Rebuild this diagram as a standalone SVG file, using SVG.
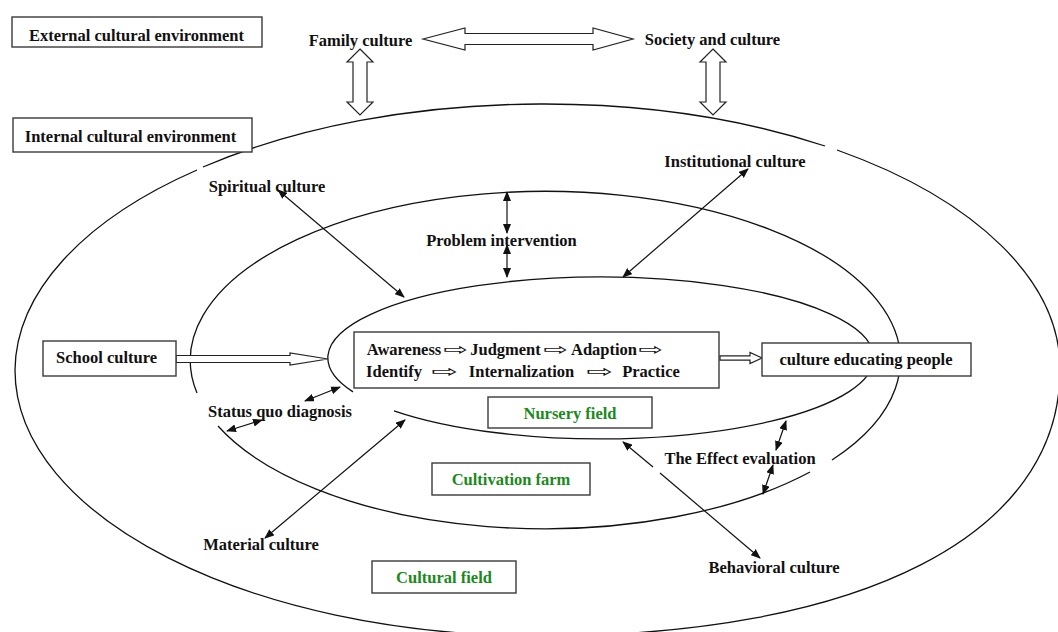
<svg xmlns="http://www.w3.org/2000/svg" width="1058" height="632" viewBox="0 0 1058 632">
<defs>
<style>
.t{font-family:"Liberation Serif","Times New Roman",serif;font-weight:bold;font-size:16.5px;fill:#111;text-anchor:middle}
.g{fill:#1a8a1a}
.box{fill:#fff;stroke:#3a3a3a;stroke-width:1.4}
.ell{fill:none;stroke:#111;stroke-width:1.3}
.ln{stroke:#111;stroke-width:1.2;fill:none}
.both{marker-start:url(#ah);marker-end:url(#ah)}
.hol{fill:#fff;stroke:#222;stroke-width:1.2}
.arr{font-family:"DejaVu Sans",sans-serif;font-size:17px;fill:#111}
</style>
<marker id="ah" viewBox="0 0 10 8" refX="9" refY="4" markerWidth="10" markerHeight="8" markerUnits="userSpaceOnUse" orient="auto-start-reverse"><path d="M0,0 L10,4 L0,8 z" fill="#111"/></marker>
</defs>
<rect width="1058" height="632" fill="#fff"/>

<g id="fields">
  <path class="ell" d="M203 167 A525 266 0 0 1 540 104 A520 266 0 0 1 825 146"/>
  <path class="ell" d="M837 150 A520 266 0 0 1 1060 370 C1060 535 862 636 540 636 C250 636 15 517 15 370 A525 266 0 0 1 197 170"/>
  <path class="ell" d="M218 426 A355 169 0 0 0 810 472"/>
  <path class="ell" d="M832 460 A355 169 0 1 0 197 393"/>
  <path class="ell" d="M394 410.8 A273 81 0 1 0 353 391.9"/>
</g>

<g id="connectors">
  <polygon class="hol" points="423,39 465,28 465,33.5 593,33.5 593,28 633,39 593,50 593,44.5 465,44.5 465,50"/>
  <polygon class="hol" points="360,49 373,62 367,62 367,102 373,102 360,115 347,102 353,102 353,62 347,62"/>
  <polygon class="hol" points="713,49 726,62 720,62 720,102 726,102 713,115 700,102 706,102 706,62 700,62"/>
  <polygon class="hol" points="176,355.5 290,355.5 290,353 328,359 290,365 290,362.5 176,362.5"/>
  <polygon class="hol" points="720,355.8 750,355.8 750,352.5 762,358 750,363.5 750,360.2 720,360.2"/>
  <line class="ln both" x1="278" y1="190" x2="404" y2="297"/>
  <line class="ln both" x1="507" y1="192" x2="507" y2="233"/>
  <line class="ln both" x1="507" y1="245" x2="507" y2="277"/>
  <line class="ln both" x1="748" y1="169" x2="623" y2="277"/>
  <line class="ln both" x1="340" y1="387" x2="305" y2="401"/>
  <line class="ln both" x1="262" y1="420" x2="227" y2="431"/>
  <line class="ln both" x1="405" y1="420" x2="265" y2="538"/>
  <line class="ln both" x1="786" y1="421" x2="776" y2="450"/>
  <line class="ln both" x1="773" y1="465" x2="763" y2="494"/>
  <line class="ln" x1="653" y1="467" x2="623" y2="442" marker-end="url(#ah)"/>
  <line class="ln" x1="660" y1="473" x2="760" y2="558" marker-end="url(#ah)"/>
</g>

<g id="external">
  <rect class="box" x="12" y="17" width="250" height="30"/>
  <text class="t" x="136.5" y="41">External cultural environment</text>
</g>
<g id="internal">
  <rect class="box" x="13" y="118" width="239" height="34"/>
  <text class="t" x="130.5" y="141.5">Internal cultural environment</text>
</g>
<g id="family"><text class="t" x="360.5" y="45.5">Family culture</text></g>
<g id="society"><text class="t" x="712.5" y="44.5">Society and culture</text></g>
<g id="spiritual"><text class="t" x="267" y="191.5">Spiritual culture</text></g>
<g id="problem"><text class="t" x="501.5" y="246">Problem intervention</text></g>
<g id="institutional"><text class="t" x="735" y="167">Institutional culture</text></g>
<g id="school">
  <rect class="box" x="43" y="341" width="133" height="35"/>
  <text class="t" x="106.5" y="363">School culture</text>
</g>
<g id="process">
  <rect class="box" x="354" y="332" width="365" height="56"/>
  <text class="t" x="404" y="355">Awareness</text>
  <text class="arr" x="443" y="355" textLength="25" lengthAdjust="spacingAndGlyphs">⇨</text>
  <text class="t" x="505.5" y="355">Judgment</text>
  <text class="arr" x="543" y="355" textLength="25" lengthAdjust="spacingAndGlyphs">⇨</text>
  <text class="t" x="604" y="355">Adaption</text>
  <text class="arr" x="638" y="355" textLength="25" lengthAdjust="spacingAndGlyphs">⇨</text>
  <text class="t" x="394" y="377">Identify</text>
  <text class="arr" x="431" y="377" textLength="27" lengthAdjust="spacingAndGlyphs">⇨</text>
  <text class="t" x="521.5" y="377">Internalization</text>
  <text class="arr" x="586" y="377" textLength="27" lengthAdjust="spacingAndGlyphs">⇨</text>
  <text class="t" x="651" y="377">Practice</text>
</g>
<g id="educating">
  <rect class="box" x="762" y="343" width="209" height="33"/>
  <text class="t" x="866" y="365">culture educating people</text>
</g>
<g id="status"><text class="t" x="280" y="417">Status quo diagnosis</text></g>
<g id="nursery">
  <rect class="box" x="488" y="397" width="164" height="31"/>
  <text class="t g" x="570" y="419">Nursery field</text>
</g>
<g id="effect"><text class="t" x="740" y="464">The Effect evaluation</text></g>
<g id="cultivation">
  <rect class="box" x="432" y="463" width="158" height="32"/>
  <text class="t g" x="511" y="485">Cultivation farm</text>
</g>
<g id="material"><text class="t" x="261" y="550">Material culture</text></g>
<g id="culturalfield">
  <rect class="box" x="372" y="561" width="144" height="32"/>
  <text class="t g" x="444" y="583">Cultural field</text>
</g>
<g id="behavioral"><text class="t" x="774" y="573">Behavioral culture</text></g>
</svg>
